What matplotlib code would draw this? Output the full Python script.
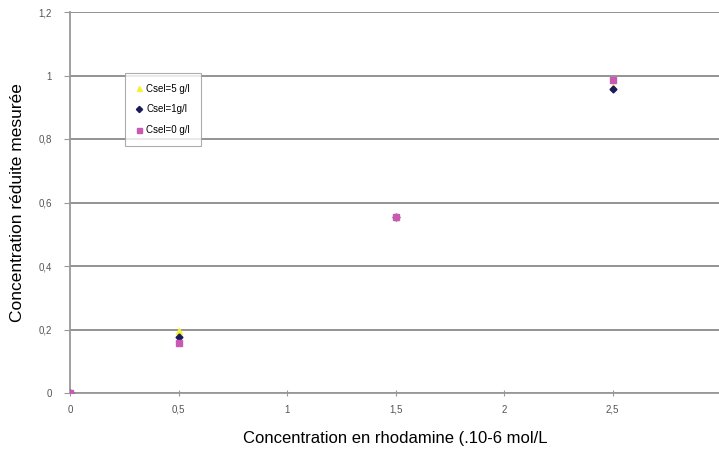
import matplotlib.pyplot as plt

plt.rcParams['font.family'] = ['Liberation Sans', 'DejaVu Sans']

x = [0, 0.5, 1.5, 2.5]
csel5 = [0, 0.195, 0.553, 0.965]
csel1 = [0, 0.176, 0.553, 0.957]
csel0 = [0, 0.157, 0.555, 0.987]

fig = plt.figure(figsize=(7.19, 4.5), dpi=100)
ax = fig.add_axes([70 / 719, 57 / 450, 651 / 719, 381 / 450])

ax.plot(x, csel5, '^', color='#f5f03a', ms=4, label='Csel=5 g/l', zorder=3)
ax.plot(x, csel1, 'D', color='#1a1a5e', ms=3.5, label='Csel=1g/l', zorder=3)
ax.plot(x, csel0, 's', color='#c85ab4', ms=4, label='Csel=0 g/l', zorder=3)

ax.set_xlim(0, 3)
ax.set_ylim(0, 1.2)
ax.set_xticks([0, 0.5, 1, 1.5, 2, 2.5, 3])
ax.set_xticklabels(['0', '0,5', '1', '1,5', '2', '2,5', '3'])
ax.set_yticks([0, 0.2, 0.4, 0.6, 0.8, 1.0, 1.2])
ax.set_yticklabels(['0', '0,2', '0,4', '0,6', '0,8', '1', '1,2'])
ax.yaxis.grid(True, color='#8a8a8a', lw=1.3)
ax.set_axisbelow(True)
for s in ['top', 'right']:
    ax.spines[s].set_visible(False)
for s in ['left', 'bottom']:
    ax.spines[s].set_color('#999999')
    ax.spines[s].set_linewidth(1.3)
ax.tick_params(colors='#999999', labelcolor='#555555', labelsize=7, length=4)
ax.tick_params(axis='y', pad=9)
ax.tick_params(axis='x', direction='inout', length=5, pad=6)

ax.set_ylabel('Concentration réduite mesurée', fontsize=12.5, labelpad=10)
ax.set_xlabel('Concentration en rhodamine (.10-6 mol/L', fontsize=12, labelpad=12)

leg = ax.legend(loc='upper left', bbox_to_anchor=(55 / 651, 1 - 61 / 381), fontsize=7,
                frameon=True, fancybox=False, edgecolor='#999999', handlelength=0.7,
                handletextpad=0.4, labelspacing=1.1, borderpad=1.1, borderaxespad=0,
                markerscale=0.9)
leg.get_frame().set_linewidth(0.8)

fig.savefig('out.png', dpi=100)
